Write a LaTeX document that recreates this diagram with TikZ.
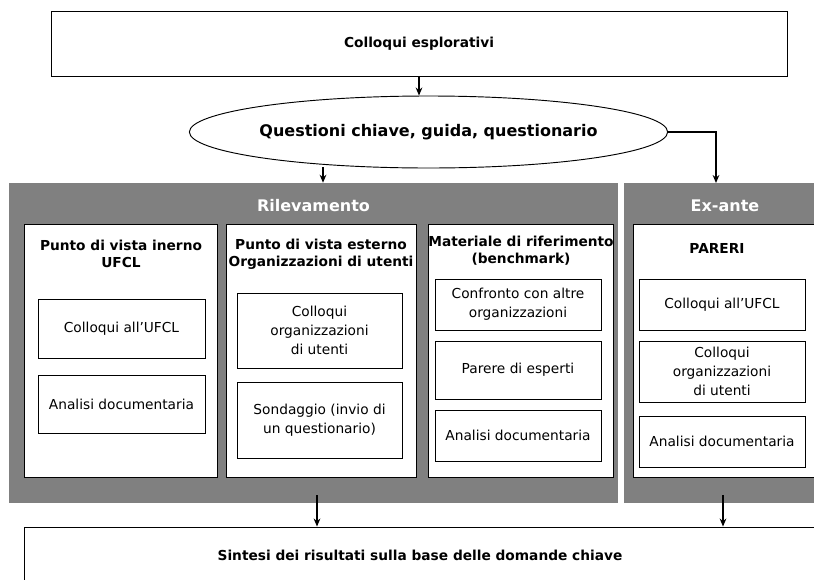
\documentclass[tikz,border=0pt]{standalone}
\usepackage{fontspec}
\setmainfont{DejaVu Sans}
\usetikzlibrary{shapes.geometric,arrows.meta}
\definecolor{panelgray}{HTML}{808080}

\begin{document}
\begin{tikzpicture}[x=0.75pt, y=-0.75pt,
  every node/.style={font=\fontsize{10.3}{14.2}\selectfont, align=center, inner sep=0pt},
  sbox/.style={draw, fill=white, line width=0.7pt},
  panel/.style={fill=panelgray},
  head/.style={font=\fontsize{10.3}{12.8}\selectfont\bfseries},
  title/.style={font=\fontsize{12}{14}\selectfont\bfseries, text=white},
  arr/.style={line width=1pt, -{Stealth[length=6pt, width=5pt]}}]
  %----- cornice -----
  \useasboundingbox (0,0) rectangle (814,579);
  \clip (0,0) rectangle (814,579);
  %----- riquadro da angoli (stile, nome, x1, y1, x2, y2, testo) -----
  \def\rbox#1#2#3#4#5#6#7{%
    \pgfmathsetmacro{\bw}{(#5-#3)*0.75}
    \pgfmathsetmacro{\bh}{(#6-#4)*0.75}
    \node[#1, minimum width=\bw pt, minimum height=\bh pt] (#2) at ({(#3+#5)/2},{(#4+#6)/2}) {#7};
  }

  %----- in alto -----
  \rbox{sbox}{colloqui}{51}{11}{787}{76}{\bfseries Colloqui esplorativi}
  \node[draw, ellipse, line width=0.7pt, fill=white, minimum width=357.75pt, minimum height=54pt,
        font=\fontsize{12}{14}\selectfont\bfseries] (quest) at (428.5,132) {Questioni chiave, guida, questionario};

  %----- pannelli grigi -----
  \rbox{panel}{ril}{9}{183}{618}{503}{}
  \rbox{panel}{exante}{624}{183}{826}{503}{}
  \node[title] (tril) at (313.5,206) {Rilevamento};
  \node[title] (tex) at (725,206) {Ex-ante};

  %----- colonne -----
  \rbox{sbox}{c1}{24}{224}{217}{477}{}
  \rbox{sbox}{c2}{226}{224}{416}{477}{}
  \rbox{sbox}{c3}{428}{224}{613}{477}{}
  \rbox{sbox}{c4}{633}{224}{830}{477}{}
  \node[head] (h1) at (121,253.5) {Punto di vista inerno\\UFCL};
  \node[head] (h2) at (321,254.5) {Punto di vista esterno\\Organizzazioni di utenti};
  \node[head] (h3) at (521,251) {Materiale di riferimento\\(benchmark)};
  \node[head] (h4) at (717,248) {PARERI};

  % Rilevamento: interno
  \rbox{sbox}{s11}{38}{299}{205}{358}{Colloqui all’UFCL}
  \rbox{sbox}{s12}{38}{375}{205}{433}{Analisi documentaria}
  % Rilevamento: esterno
  \rbox{sbox}{s21}{237}{293}{402}{368}{Colloqui\\organizzazioni\\di utenti}
  \rbox{sbox}{s22}{237}{382}{402}{458}{Sondaggio (invio di\\un questionario)}
  % Rilevamento: benchmark
  \rbox{sbox}{s31}{435}{279}{601}{330}{Confronto con altre\\organizzazioni}
  \rbox{sbox}{s32}{435}{341}{601}{399}{Parere di esperti}
  \rbox{sbox}{s33}{435}{410}{601}{461}{Analisi documentaria}
  % Ex-ante
  \rbox{sbox}{s41}{639}{279}{805}{330}{Colloqui all’UFCL}
  \rbox{sbox}{s42}{639}{341}{805}{402}{Colloqui\\organizzazioni\\di utenti}
  \rbox{sbox}{s43}{639}{416}{805}{467}{Analisi documentaria}

  %----- in basso -----
  \rbox{sbox}{sintesi}{24}{527}{816}{600}{}
  \node[font=\fontsize{10.3}{14.2}\selectfont\bfseries] (tsin) at (420,555) {Sintesi dei risultati sulla base delle domande chiave};

  %----- frecce -----
  \coordinate (q1) at (323,167);
  \coordinate (q2) at (716,183);
  \coordinate (r1) at (317,495);
  \coordinate (e1) at (723,495);
  \draw[arr] (colloqui.south) -- (colloqui.south |- quest.north);
  \draw[arr] (q1) -- (q1 |- ril.north);
  \draw[arr] (quest.east) -| (q2);
  \draw[arr] (r1) -- (r1 |- sintesi.north);
  \draw[arr] (e1) -- (e1 |- sintesi.north);
\end{tikzpicture}
\end{document}
